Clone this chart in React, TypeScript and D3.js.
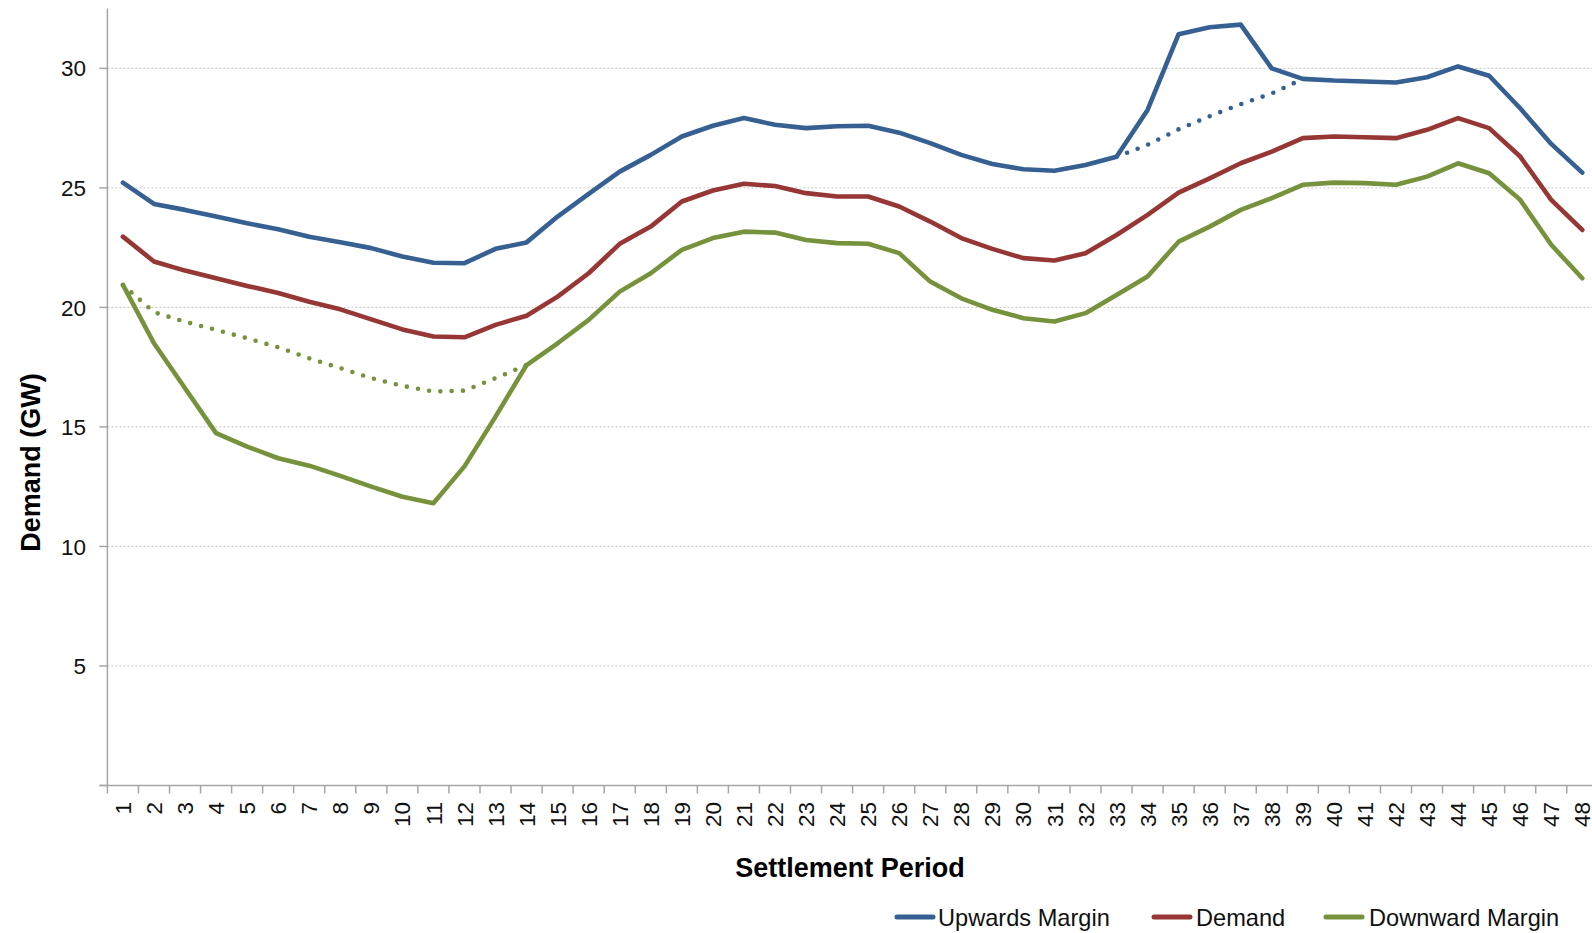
import React from "react";
import * as d3 from "d3";

const periods = [
  "1","2","3","4","5","6","7","8","9","10","11","12","13","14","15","16",
  "17","18","19","20","21","22","23","24","25","26","27","28","29","30","31","32",
  "33","34","35","36","37","38","39","40","41","42","43","44","45","46","47","48",
];

const upwardsMargin = [
  25.22, 24.33, 24.08, 23.8, 23.52, 23.27, 22.96, 22.73, 22.48, 22.13, 21.87, 21.85,
  22.45, 22.72, 23.8, 24.75, 25.68, 26.38, 27.15, 27.6, 27.92, 27.64, 27.5, 27.58,
  27.6, 27.31, 26.87, 26.38, 26.0, 25.78, 25.72, 25.96, 26.3, 28.26, 31.43, 31.72,
  31.83, 30.0, 29.56, 29.49, 29.45, 29.41, 29.63, 30.08, 29.69, 28.33, 26.84, 25.64,
];

const demand = [
  22.96, 21.92, 21.54, 21.22, 20.9, 20.6, 20.24, 19.92, 19.5, 19.08, 18.78, 18.75,
  19.27, 19.65, 20.45, 21.43, 22.66, 23.38, 24.43, 24.89, 25.17, 25.08, 24.78, 24.64,
  24.64, 24.22, 23.59, 22.9, 22.45, 22.06, 21.96, 22.27, 23.03, 23.87, 24.8, 25.4,
  26.03, 26.52, 27.08, 27.15, 27.12, 27.08, 27.43, 27.92, 27.5, 26.31, 24.5, 23.24,
];

const downwardMargin = [
  20.94, 18.5, 16.62, 14.74, 14.18, 13.69, 13.38, 12.95, 12.5, 12.08, 11.81, 13.35,
  15.43, 17.59, 18.5, 19.48, 20.66, 21.43, 22.41, 22.9, 23.17, 23.13, 22.82, 22.69,
  22.66, 22.27, 21.08, 20.38, 19.9, 19.55, 19.41, 19.76, 20.52, 21.29, 22.75, 23.38,
  24.08, 24.57, 25.13, 25.22, 25.2, 25.13, 25.47, 26.03, 25.61, 24.5, 22.62, 21.22,
];

// dotted (alternative) segments
const upwardsDottedPeriods = ["33","34","35","36","37","38","39"];
const upwardsDotted = [26.3, 26.8, 27.45, 28.0, 28.5, 28.95, 29.56];

const downwardDottedPeriods = ["1","2","3","4","5","6","7","8","9","10","11","12","13","14"];
const downwardDotted = [20.94, 19.8, 19.4, 19.06, 18.71, 18.33, 17.87, 17.46, 17.04, 16.72, 16.48, 16.52, 17.04, 17.59];

const yTicks = [0, 5, 10, 15, 20, 25, 30];
const yTickLabels = ["", "5", "10", "15", "20", "25", "30"];

const seriesNames = ["Upwards Margin", "Demand", "Downward Margin"];
const seriesColors = ["#376092", "#963735", "#76923C"];

const W = 1592;
const H = 933;
const FONT = "'Liberation Sans', Arial, sans-serif";

export default function App() {
  const x0 = 107.4;
  const band = 31.05;
  const x = d3
    .scaleBand<string>()
    .domain(periods)
    .range([x0, x0 + band * periods.length])
    .paddingInner(0)
    .paddingOuter(0);
  const y = d3.scaleLinear().domain([0, 32.5]).range([785.5, 8.6]);

  const cx = (p: string) => (x(p) as number) + x.bandwidth() / 2;

  const line = d3
    .line<[string, number]>()
    .x((d) => cx(d[0]))
    .y((d) => y(d[1]))
    .curve(d3.curveLinear);

  const solidSeries = [upwardsMargin, demand, downwardMargin];

  const axisColor = "#a6a6a6";
  const yBottom = y(0);

  return (
    <svg
      width={W}
      height={H}
      style={{ position: "absolute", left: 0, top: 0, background: "#fff" }}
      fontFamily={FONT}
    >
      <rect x={0} y={0} width={W} height={H} fill="#fff" />
      {/* gridlines */}
      {yTicks
        .filter((t) => t > 0)
        .map((t) => (
          <line
            key={"g" + t}
            x1={x0}
            x2={W}
            y1={y(t)}
            y2={y(t)}
            stroke="#c4c4c4"
            strokeWidth={1}
            strokeDasharray="2 2"
          />
        ))}
      {/* y axis */}
      <line x1={x0} x2={x0} y1={y(32.5)} y2={yBottom + 0.5} stroke={axisColor} strokeWidth={1.5} />
      {yTicks.map((t, i) => (
        <g key={"yt" + t}>
          <line x1={x0 - 8} x2={x0} y1={y(t)} y2={y(t)} stroke={axisColor} strokeWidth={1.5} />
          <text
            x={86}
            y={y(t)}
            dy="0.36em"
            textAnchor="end"
            fontSize={22.5}
            fill="#111"
          >
            {yTickLabels[i]}
          </text>
        </g>
      ))}
      {/* x axis */}
      <line x1={x0 - 8} x2={W} y1={yBottom} y2={yBottom} stroke={axisColor} strokeWidth={1.5} />
      {periods.map((p) => (
        <line
          key={"xt" + p}
          x1={x(p) as number}
          x2={x(p) as number}
          y1={yBottom}
          y2={yBottom + 8}
          stroke={axisColor}
          strokeWidth={1.5}
        />
      ))}
      {periods.map((p) => (
        <text
          key={"xl" + p}
          transform={`translate(${cx(p)},${802}) rotate(-90)`}
          textAnchor="end"
          dy="0.36em"
          fontSize={22.5}
          fill="#111"
        >
          {p}
        </text>
      ))}
      {/* axis titles */}
      <text
        transform={`translate(30.5,462.5) rotate(-90)`}
        textAnchor="middle"
        dy="0.36em"
        fontSize={27}
        fontWeight="bold"
        fill="#000"
      >
        Demand (GW)
      </text>
      <text x={850} y={877} textAnchor="middle" fontSize={27} fontWeight="bold" fill="#000">
        Settlement Period
      </text>
      {/* dotted series */}
      <path
        d={line(upwardsDottedPeriods.map((p, i) => [p, upwardsDotted[i]]) as any) || ""}
        fill="none"
        stroke={seriesColors[0]}
        strokeWidth={4.6}
        strokeLinecap="round"
        strokeDasharray="0 11.3"
      />
      <path
        d={line(downwardDottedPeriods.map((p, i) => [p, downwardDotted[i]]) as any) || ""}
        fill="none"
        stroke={seriesColors[2]}
        strokeWidth={4.6}
        strokeLinecap="round"
        strokeDasharray="0 11.3"
      />
      {/* solid series */}
      {solidSeries.map((vals, si) => (
        <path
          key={"s" + si}
          d={line(periods.map((p, i) => [p, vals[i]]) as any) || ""}
          fill="none"
          stroke={seriesColors[si]}
          strokeWidth={4.6}
          strokeLinejoin="round"
          strokeLinecap="round"
        />
      ))}
      {/* legend */}
      {[
        { sx: 895, tx: 938 },
        { sx: 1152, tx: 1196 },
        { sx: 1324, tx: 1369 },
      ].map((l, i) => (
        <g key={"lg" + i}>
          <line
            x1={l.sx + 2}
            x2={l.sx + 38}
            y1={917}
            y2={917}
            stroke={seriesColors[i]}
            strokeWidth={5}
            strokeLinecap="round"
          />
          <text x={l.tx} y={925.7} fontSize={23.6} fill="#111">
            {seriesNames[i]}
          </text>
        </g>
      ))}
    </svg>
  );
}
